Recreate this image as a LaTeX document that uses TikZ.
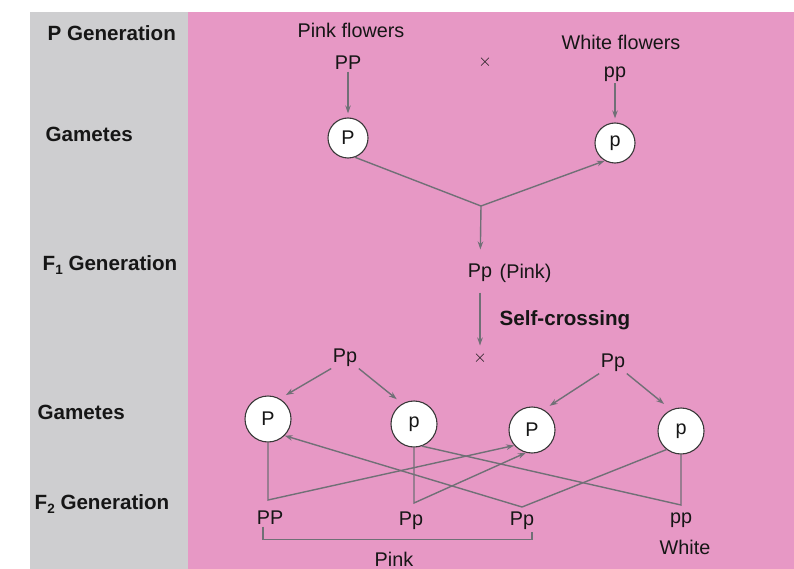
\documentclass[tikz,border=0pt]{standalone}
\usepackage{fontspec}
\setmainfont{Liberation Sans}
\usetikzlibrary{arrows.meta}
\definecolor{pinkbg}{RGB}{231,152,197}
\definecolor{greybg}{RGB}{206,206,208}
\definecolor{wire}{RGB}{112,112,118}
\definecolor{ink}{RGB}{22,22,22}
\newcommand{\sublow}[1]{\raisebox{-0.35ex}{\fontsize{13.5}{13.5}\selectfont #1}}

\begin{document}
\begin{tikzpicture}[x=1pt,y=-1pt,
  every node/.style={font=\fontsize{19.8}{22}\selectfont, text=ink, inner sep=1.5pt},
  rowlabel/.style={anchor=west, font=\fontsize{20.6}{23}\selectfont\bfseries},
  gamete/.style={circle, draw=ink!85, fill=white, line width=1.1pt, inner sep=0pt},
  gsmall/.style={gamete, minimum size=40pt},
  gbig/.style={gamete, minimum size=46pt},
  wire/.style={draw=wire, line width=1.4pt},
  arr/.style={wire, -{Stealth[length=8pt,width=5.5pt]}},
  crossmark/.style={font=\fontsize{16}{16}\selectfont}
]
\useasboundingbox (0,0) rectangle (794,569);
\fill[white] (0,0) rectangle (794,569);
% side column and main panel
\fill[greybg] (30,12) rectangle (188,569);
\fill[pinkbg] (188,12) rectangle (794,569);

% generation labels
\node[rowlabel] (lp)  at (46,33)  {P Generation};
\node[rowlabel] (lg1) at (44,134) {Gametes};
\node[rowlabel] (lf1) at (41,265) {F\sublow{1} Generation};
\node[rowlabel] (lg2) at (36,412) {Gametes};
\node[rowlabel] (lf2) at (33,504) {F\sublow{2} Generation};

% parents
\node (pinkf)  at (351,30) {Pink flowers};
\node (PP)     at (348,63) {PP};
\node[gsmall] (gP) at (348,138) {P};
\node (whitef) at (621,42) {White flowers};
\node (pp)     at (615,74) {pp};
\node[gsmall] (gp) at (615,143) {p};
\node[crossmark] (x1) at (485,62) {$\times$};
\coordinate (j) at (481,206);

% F1
\node (f1) at (480,273) {Pp};
\node[anchor=west] (f1note) at (498,273) {(Pink)};
\node[crossmark] (x2) at (480,358) {$\times$};
\node[anchor=west, font=\fontsize{20.6}{23}\selectfont\bfseries] (selfc) at (498,320) {Self-crossing};

\draw[arr, shorten >=4pt] (PP) -- (gP);
\draw[arr, shorten >=4pt] (pp) -- (gp);
\draw[wire] (gP.-70) -- (j);
\draw[arr] (j) -- (gp.240);
\draw[arr, shorten >=13pt] (j) -- (f1);
\draw[arr, shorten <=9pt, shorten >=5pt] (f1) -- (x2);

% F1 gametes
\node (ppL) at (345,358) {Pp};
\node (ppR) at (613,363) {Pp};
\node[gbig] (g1) at (268,419) {P};
\node[gbig] (g2) at (414,424) {p};
\node[gbig] (g3) at (532,430) {P};
\node[gbig] (g4) at (681,431) {p};

\draw[arr, shorten >=7pt] (ppL.south west) -- (g1.60);
\draw[arr, shorten >=7pt] (ppL.south east) -- (g2.120);
\draw[arr, shorten >=7pt] (ppR.south west) -- (g3.60);
\draw[arr, shorten >=9pt] (ppR.south east) -- (g4.115);

% F2 offspring
\node (f2a) at (270,518) {PP};
\node (f2b) at (411,521) {Pp};
\node (f2c) at (522,521) {Pp};
\node (f2d) at (681,520) {pp};
\node (f2white) at (685,547) {White};
\node (f2pink)  at (394,559) {Pink};

\coordinate (a1) at (268,500);
\coordinate (a2) at (414,503);
\coordinate (a3) at (522,507);
\coordinate (a4) at (681,505);

\draw[arr] (g1.south) -- (a1) -- (g3.221);
\draw[arr] (g2.south) -- (a2) -- (g3.255);
\draw[arr] (g4.232) -- (a3) -- (g1.-45);
\draw[wire] (g4.south) -- (a4) -- (g2.-70);

% bracket grouping the pink offspring
\draw[wire, line width=1.2pt] ([xshift=-7pt]f2a.south) -- ++(0,13) -| ([xshift=10pt]f2c.south);
\end{tikzpicture}
\end{document}
